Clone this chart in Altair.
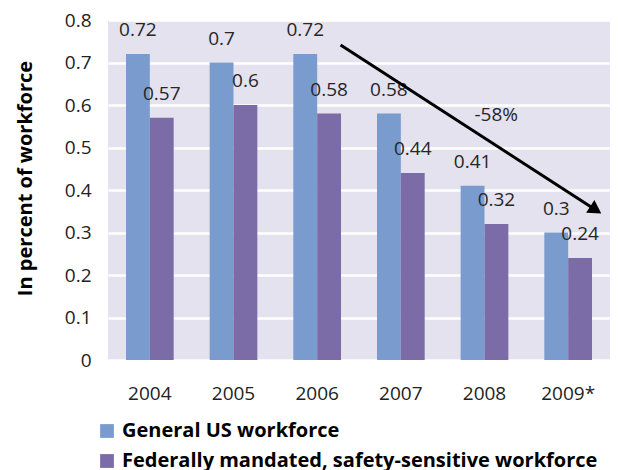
import altair as alt
import pandas as pd

years = ["2004", "2005", "2006", "2007", "2008", "2009*"]
series = ["General US workforce", "Federally mandated, safety-sensitive workforce"]
general = [0.72, 0.70, 0.72, 0.58, 0.41, 0.30]
federal = [0.57, 0.60, 0.58, 0.44, 0.32, 0.24]
colors = ["#7A9BCD", "#7B6BA6"]

# annotation arrow (data coordinates on a 0-6 category index axis)
arrow_x = [2.78, 5.83]
arrow_y = [0.741, 0.353]
arrow_label = "-58%"
label_x = [4.64]
label_y = [0.576]

rows = []
for i, y in enumerate(years):
    rows.append({"year": y, "series": series[0], "value": general[i]})
    rows.append({"year": y, "series": series[1], "value": federal[i]})
df = pd.DataFrame(rows)

FONT = "Open Sans"

y_axis = alt.Axis(values=[0, 0.1, 0.2, 0.3, 0.4, 0.5, 0.6, 0.7, 0.8],
                  format="~g", labelFontSize=19, labelColor="#222222",
                  labelPadding=17, ticks=False, domain=False,
                  gridColor="white", gridWidth=2.5,
                  titleFontSize=20, titleFontWeight="bold",
                  titleColor="black", titleFont=FONT,
                  titleX=-77, titleY=158, titleAngle=270,
                  titleAlign="center", titleBaseline="alphabetic",
                  labelFont=FONT)
y_scale = alt.Scale(domain=[0, 0.8], nice=False)
Y_TITLE = "In percent of workforce"

x_enc = alt.X("year:N", sort=years, title=None,
              scale=alt.Scale(paddingInner=0.43, paddingOuter=0.215),
              axis=alt.Axis(labelAngle=0, labelFontSize=19, labelColor="#222222",
                            labelPadding=24, ticks=False, domain=False, grid=False,
                            labelFont=FONT))
y_enc = alt.Y("value:Q", title=Y_TITLE, scale=y_scale, axis=y_axis)
off = alt.XOffset("series:N", sort=series, scale=alt.Scale(paddingInner=0))

bars = alt.Chart(df).mark_bar().encode(
    x=x_enc, y=y_enc, xOffset=off,
    color=alt.Color("series:N", sort=series,
                    scale=alt.Scale(domain=series, range=colors),
                    legend=alt.Legend(title=None, orient="none", legendX=-11,
                                      legendY=401, direction="vertical",
                                      symbolType="square", symbolSize=190,
                                      symbolStrokeWidth=0, labelLimit=0,
                                      labelFontSize=20, labelFontWeight="bold",
                                      labelColor="black", labelFont=FONT,
                                      rowPadding=10, labelOffset=5)),
)
texts = alt.Chart(df).mark_text(baseline="alphabetic", dy=-18, fontSize=19,
                                color="#262626", font=FONT).encode(
    x=alt.X("year:N", sort=years), y=y_enc, xOffset=off,
    text=alt.Text("value:Q", format="~g"),
)
base = alt.layer(bars, texts)

adf = pd.DataFrame({"x": arrow_x, "value": arrow_y})
xq = alt.X("x:Q", scale=alt.Scale(domain=[0, 6], nice=False), axis=None)
line = alt.Chart(adf).mark_line(color="black", strokeWidth=3).encode(x=xq, y=y_enc)
head = alt.Chart(adf.iloc[[1]]).mark_point(shape="triangle-right", filled=True,
                                            color="black", size=230, angle=33,
                                            opacity=1).encode(x=xq, y=y_enc)
ldf = pd.DataFrame({"x": label_x, "value": label_y, "t": [arrow_label]})
lbl = alt.Chart(ldf).mark_text(fontSize=19, color="#262626", font=FONT).encode(
    x=xq, y=y_enc, text="t:N")

chart = alt.layer(base, line, head, lbl).resolve_scale(x="independent").properties(
    width=502, height=340,
    autosize=alt.AutoSizeParams(type="none"),
    padding={"left": 100, "top": 12, "right": 0, "bottom": 110},
).configure_view(fill="#E4E2EE", stroke=None)

chart.save("out.html", embed_options={"renderer": "svg", "actions": False})
